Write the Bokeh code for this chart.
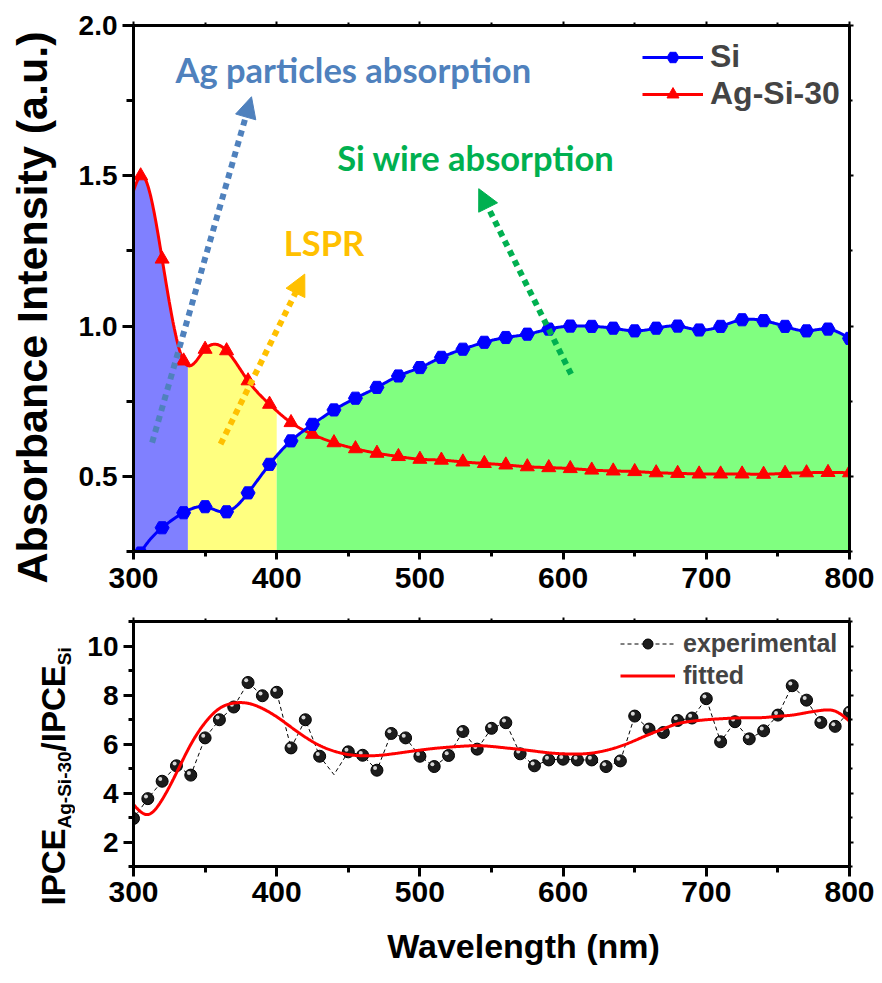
import numpy as np
from bokeh.plotting import figure
from bokeh.layouts import column, row
from bokeh.models import (Range1d, LinearAxis, FixedTicker, Label, Arrow, NormalHead,
                          Legend, LegendItem, CustomJSTickFormatter, NumeralTickFormatter)
from bokeh.core.properties import value
from bokeh.embed import file_html
from bokeh.resources import INLINE

# ---------------- data ----------------
wavelength_abs = list(range(305, 801, 15))
absorb_si = [0.245, 0.329, 0.379, 0.399, 0.382, 0.445, 0.540, 0.618, 0.673, 0.721,
             0.760, 0.796, 0.834, 0.862, 0.896, 0.923, 0.946, 0.962, 0.973, 0.990,
             1.000, 0.999, 0.993, 0.984, 0.993, 1.000, 0.987, 0.999, 1.021, 1.018,
             0.999, 0.984, 0.990, 0.959]
absorb_ag = [1.500, 1.223, 0.884, 0.923, 0.918, 0.818, 0.740, 0.679, 0.640, 0.612,
             0.592, 0.577, 0.566, 0.557, 0.554, 0.548, 0.543, 0.538, 0.532, 0.529,
             0.526, 0.521, 0.518, 0.516, 0.512, 0.510, 0.508, 0.508, 0.508, 0.507,
             0.510, 0.512, 0.513, 0.512]
# value of the smoothed curves at 300 nm (left edge, no marker there)
curve_start_wl = 300
curve_start_si = 0.20
curve_start_ag = 1.45

region_edges = [300, 338, 400, 800]
region_colors = ["#8080FF", "#FFFF80", "#80FF80"]
region_series = ["Ag-Si-30", "Ag-Si-30", "Si"]

wavelength_ipce = list(range(300, 801, 10))
ipce_experimental = [2.96, 3.77, 4.48, 5.11, 4.73, 6.25, 6.99, 7.51, 8.51, 7.97, 8.11,
                     5.84, 6.99, 5.50, 4.75, 5.68, 5.54, 4.93, 6.43, 6.25, 5.50,
                     5.08, 5.53, 6.51, 5.79, 6.64, 6.87, 5.60, 5.11, 5.35, 5.38,
                     5.35, 5.35, 5.08, 5.31, 7.14, 6.61, 6.47, 6.96, 7.06, 7.85,
                     6.09, 6.91, 6.21, 6.54, 7.18, 8.38, 7.79, 6.88, 6.72, 7.30]
ipce_fitted = [3.53, 3.12, 3.73, 4.82, 5.98, 6.87, 7.45, 7.67, 7.66, 7.45, 7.11,
               6.69, 6.28, 5.94, 5.71, 5.57, 5.52, 5.53, 5.59, 5.67, 5.75,
               5.82, 5.87, 5.91, 5.93, 5.90, 5.84, 5.78, 5.71, 5.64, 5.60,
               5.59, 5.63, 5.74, 5.91, 6.14, 6.39, 6.62, 6.83, 6.93, 6.99,
               7.03, 7.06, 7.07, 7.08, 7.13, 7.18, 7.28, 7.37, 7.34, 6.93]
no_marker_wl = [440]

x_ticks = [300, 400, 500, 600, 700, 800]
x_minor = [350, 450, 550, 650, 750]
abs_yticks = [0.5, 1.0, 1.5, 2.0]
abs_yminor = [0.25, 0.75, 1.25, 1.75]
ipce_yticks = [2, 4, 6, 8, 10]
ipce_yminor = [1, 3, 5, 7, 9, 11]

# annotation texts: (text, colour, x_left, y_baseline)
notes = [("Ag particles absorption", "#4F81BD", 329.3, 1.852),
         ("Si wire absorption", "#00B050", 442.2, 1.560),
         ("LSPR", "#FFC000", 405.0, 1.278)]
# dotted arrows: (x_start, y_start, x_tip, y_tip, colour)
arrows = [(313.0, 0.612, 382.4, 1.763, "#4F81BD"),
          (360.8, 0.607, 419.6, 1.173, "#FFC000"),
          (605.6, 0.840, 541.1, 1.457, "#00B050")]

AXF = "Liberation Sans"
ANF = "Lato"

# Arial-bold advance widths (Liberation Sans is metric compatible)
ARIAL_B = {"I": .278, "P": .667, "C": .722, "E": .667, "A": .722, "g": .611, "-": .333,
           "S": .667, "i": .278, "3": .556, "0": .556, "/": .278}


def text_w(s, size):
    return sum(ARIAL_B[ch] for ch in s) * size


def natural_spline(x, y, xs):
    x = np.asarray(x, float)
    y = np.asarray(y, float)
    n = len(x)
    h = np.diff(x)
    A = np.zeros((n, n))
    r = np.zeros(n)
    A[0, 0] = A[-1, -1] = 1.0
    for i in range(1, n - 1):
        A[i, i - 1] = h[i - 1]
        A[i, i] = 2 * (h[i - 1] + h[i])
        A[i, i + 1] = h[i]
        r[i] = 3 * ((y[i + 1] - y[i]) / h[i] - (y[i] - y[i - 1]) / h[i - 1])
    c = np.linalg.solve(A, r)
    b = (y[1:] - y[:-1]) / h - h * (2 * c[:-1] + c[1:]) / 3
    d = (c[1:] - c[:-1]) / (3 * h)
    idx = np.clip(np.searchsorted(x, xs, side="right") - 1, 0, n - 2)
    t = xs - x[idx]
    return y[idx] + b[idx] * t + c[idx] * t ** 2 + d[idx] * t ** 3


def style_axis(ax, size, maj_out, min_out, standoff):
    ax.axis_line_width = 3
    ax.axis_line_color = "black"
    ax.major_tick_line_width = 3
    ax.minor_tick_line_width = 3
    ax.major_tick_out = maj_out
    ax.major_tick_in = 0
    ax.minor_tick_out = min_out
    ax.minor_tick_in = 0
    ax.major_label_text_font = AXF
    ax.major_label_text_font_style = "bold"
    ax.major_label_text_font_size = size
    ax.major_label_text_color = "black"
    ax.major_label_standoff = standoff


def mirror_axes(p, xt, xm, yt, ym):
    blank = CustomJSTickFormatter(code="return ''")
    top = LinearAxis(ticker=FixedTicker(ticks=xt, minor_ticks=xm), formatter=blank)
    right = LinearAxis(ticker=FixedTicker(ticks=yt, minor_ticks=ym), formatter=blank)
    for ax in (top, right):
        ax.axis_line_width = 3
        ax.major_tick_line_width = 2
        ax.minor_tick_line_width = 2
        ax.major_tick_out = 4
        ax.major_tick_in = 0
        ax.minor_tick_out = 3
        ax.minor_tick_in = 0
        ax.major_label_standoff = 0
    p.add_layout(top, "above")
    p.add_layout(right, "right")


def blank_fig(w, h):
    f = figure(width=w, height=h, x_range=Range1d(0, w), y_range=Range1d(0, h),
               x_axis_type=None, y_axis_type=None, min_border=0, toolbar_location=None,
               output_backend="svg")
    f.outline_line_color = None
    return f


def put_text(f, txt, x, y, size, angle=0.0):
    # centred text: (x, y) is the centre of the text box
    f.text(x=[x], y=[y], text=[txt], angle=angle, text_font=value(AXF),
           text_font_style="bold", text_font_size=f"{size}px", text_align="center",
           text_baseline="middle", text_color="black")


FW = 716
LW = 75            # width of the strip holding the vertical axis titles
# ---------------- top figure: absorbance ----------------
y_lo, y_hi = 0.25, 2.0
p1 = figure(frame_width=FW, frame_height=526, x_range=Range1d(300, 800),
            y_range=Range1d(y_lo, y_hi), output_backend="svg", toolbar_location=None,
            min_border_left=133 - LW, min_border_right=33, min_border_top=25,
            min_border_bottom=49)
p1.xgrid.grid_line_color = None
p1.ygrid.grid_line_color = None
p1.outline_line_color = None
p1.xaxis.ticker = FixedTicker(ticks=x_ticks, minor_ticks=x_minor)
p1.yaxis.ticker = FixedTicker(ticks=abs_yticks, minor_ticks=abs_yminor)
p1.yaxis.formatter = NumeralTickFormatter(format="0.0")
style_axis(p1.xaxis[0], "30px", 8, 5, 8)
style_axis(p1.yaxis[0], "28px", 11, 7, 5)
mirror_axes(p1, x_ticks, x_minor, abs_yticks, abs_yminor)

xs = np.linspace(300, 800, 1001)
si_curve = natural_spline([curve_start_wl] + wavelength_abs, [curve_start_si] + absorb_si, xs)
ag_curve = natural_spline([curve_start_wl] + wavelength_abs, [curve_start_ag] + absorb_ag, xs)
curves = {"Si": si_curve, "Ag-Si-30": ag_curve}

for a, b, col, ser in zip(region_edges[:-1], region_edges[1:], region_colors, region_series):
    m = (xs >= a) & (xs <= b)
    p1.varea(x=xs[m], y1=y_lo, y2=curves[ser][m], fill_color=col)

l_ag = p1.line(xs, ag_curve, line_color="#FF0000", line_width=3)
s_ag = p1.scatter(wavelength_abs, absorb_ag, marker="triangle", size=14,
                  fill_color="#FF0000", line_color="#FF0000")
l_si = p1.line(xs, si_curve, line_color="#0000FF", line_width=3)
s_si = p1.scatter(wavelength_abs, absorb_si, marker="hex", size=14,
                  fill_color="#0000FF", line_color="#0000FF")

for x0, y0, x1, y1, col in arrows:
    p1.add_layout(Arrow(x_start=x0, y_start=y0, x_end=x1, y_end=y1, line_color=col,
                        line_width=6, line_dash="6 5",
                        end=NormalHead(size=21, fill_color=col, line_color=col, line_width=1)))

for txt, col, x, y in notes:
    p1.add_layout(Label(x=x, y=y, text=txt, text_color=col, text_font=ANF,
                        text_font_style="bold", text_font_size="34.5px",
                        text_align="left", text_baseline="alphabetic"))

leg1 = Legend(items=[LegendItem(label="Si", renderers=[l_si, s_si]),
                     LegendItem(label="Ag-Si-30", renderers=[l_ag, s_ag])],
              location=(509, 439), glyph_width=61, glyph_height=30, label_height=30,
              label_standoff=7, spacing=0, padding=0, margin=0,
              label_text_font=AXF, label_text_font_style="bold", label_text_font_size="32px",
              border_line_color=None, background_fill_alpha=0)
p1.add_layout(leg1)

labA = blank_fig(LW, 600)
put_text(labA, "Absorbance Intensity (a.u.)", 31, 600 - 307, 43, angle=np.pi / 2)

# ---------------- bottom figure: IPCE ratio ----------------
p2 = figure(frame_width=FW, frame_height=245, x_range=Range1d(300, 800),
            y_range=Range1d(1, 11), output_backend="svg", toolbar_location=None,
            min_border_left=133 - LW, min_border_right=33, min_border_top=21,
            min_border_bottom=57)
p2.xgrid.grid_line_color = None
p2.ygrid.grid_line_color = None
p2.outline_line_color = None
p2.xaxis.ticker = FixedTicker(ticks=x_ticks, minor_ticks=x_minor)
p2.yaxis.ticker = FixedTicker(ticks=ipce_yticks, minor_ticks=ipce_yminor)
style_axis(p2.xaxis[0], "30px", 10, 6, 5)
style_axis(p2.yaxis[0], "28px", 10, 5, 5)
mirror_axes(p2, x_ticks, x_minor, ipce_yticks, ipce_yminor)

exp_line = p2.line(wavelength_ipce, ipce_experimental, line_color="black", line_width=1,
                   line_dash="4 3")
mk_x = [w for w in wavelength_ipce if w not in no_marker_wl]
mk_y = [v for w, v in zip(wavelength_ipce, ipce_experimental) if w not in no_marker_wl]
exp_mk = p2.scatter(mk_x, mk_y, marker="circle", size=12, fill_color="#1c1c1c",
                    line_color="black", line_width=1)
# small specular highlight to give the sphere look (offset ~2 px up-left)
p2.scatter([w - 1.3 for w in mk_x], [v + 0.09 for v in mk_y], marker="circle", size=4,
           fill_color="#d8d8d8", line_color=None)
xf = np.linspace(300, 800, 1001)
fit_line = p2.line(xf, natural_spline(wavelength_ipce, ipce_fitted, xf), line_color="#FF0000",
                   line_width=3)

leg2 = Legend(items=[LegendItem(label="experimental", renderers=[exp_line, exp_mk]),
                     LegendItem(label="fitted", renderers=[fit_line])],
              location=(487, 176), glyph_width=55, glyph_height=25, label_height=25,
              label_standoff=8, spacing=3, padding=0, margin=0,
              label_text_font=AXF, label_text_font_style="bold", label_text_font_size="25px",
              border_line_color=None, background_fill_alpha=0)
p2.add_layout(leg2)

labB = blank_fig(LW, 323)
M, S = 33, 19
parts = [("IPCE", M, 0), ("Ag-Si-30", S, 1), ("/IPCE", M, 0), ("Si", S, 1)]
ypos = 905   # page y where the title starts (bottom end)
for txt, size, sub in parts:
    w = text_w(txt, size)
    base_x = 71 if sub else 65
    cx = base_x - 0.35 * size
    cy = ypos - w / 2
    put_text(labB, txt, cx, 923 - cy, size, angle=np.pi / 2)
    ypos -= w

labC = blank_fig(882, 60)
put_text(labC, "Wavelength (nm)", 523, 983 - 945, 34)

top_block = row(column(labA, labB), column(p1, p2))
layout = column(top_block, labC)
open("out.html", "w").write(file_html(layout, INLINE))
